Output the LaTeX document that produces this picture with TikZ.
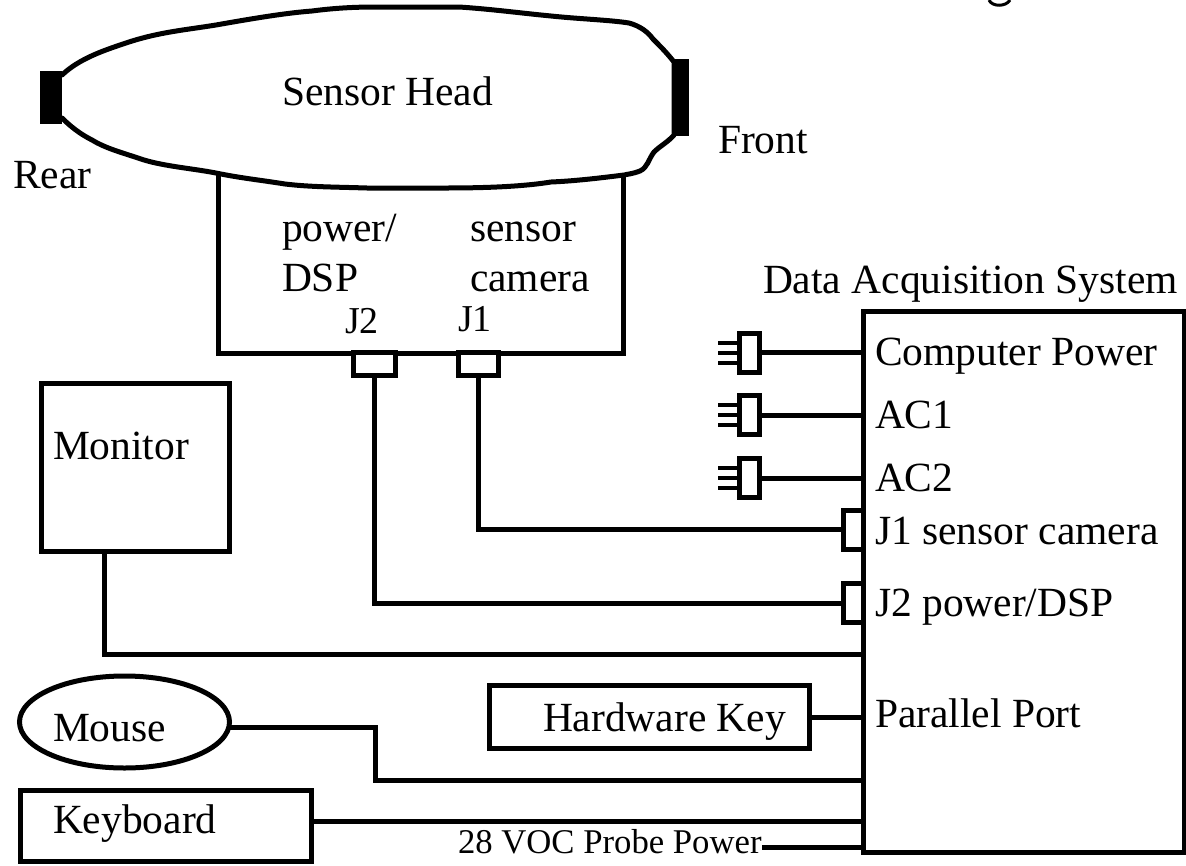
\documentclass[tikz,border=0pt]{standalone}
\usepackage{fontspec}
\setmainfont{Liberation Serif}
\usetikzlibrary{shapes.geometric}
\begin{document}
\begin{tikzpicture}[x=1pt,y=-1pt,
  wire/.style={draw=black,line width=5pt,line cap=butt,line join=miter},
  outline/.style={draw=black,line width=5pt,line cap=round,line join=round},
  boxn/.style={draw=black,line width=5pt,fill=white,inner sep=0pt,outer sep=0pt,rectangle},
  solidn/.style={fill=black,draw=none,inner sep=0pt,outer sep=0pt,rectangle},
  lab/.style={inner sep=0pt,outer sep=0pt,font=\fontsize{41.5}{41.5}\selectfont,text=black,anchor=base west},
  pinw/.style={draw=black,line width=4pt}]
\useasboundingbox (0,0) rectangle (1186,865);
\fill[white] (0,0) rectangle (1186,865);
% cropped fragment at the top edge
\draw[draw=black,line width=3pt] (989,0) .. controls (992,7) and (1006,7) .. (1010,0);
% pedestal under the head
\node[boxn,minimum width=405pt,minimum height=180pt] (base) at (420.5,263) {};
% sensor head outline
\draw[outline,fill=white] (62,75) .. controls (80,58) and (105,50) .. (129,42)
  .. controls (160,32) and (185,30) .. (216,25)
  .. controls (250,19) and (285,13) .. (312,11)
  .. controls (335,8) and (355,7) .. (376,7)
  -- (459,7)
  .. controls (490,9) and (520,13) .. (551,16)
  .. controls (580,19) and (610,20) .. (629,23)
  .. controls (640,26) and (648,32) .. (653,39)
  .. controls (660,46) and (667,53) .. (674,62)
  -- (674,135)
  .. controls (668,142) and (660,146) .. (654,152)
  .. controls (648,160) and (648,167) .. (640,171)
  .. controls (632,174) and (628,174) .. (624,175)
  .. controls (600,178) and (575,181) .. (551,182)
  .. controls (520,187) and (480,188) .. (445,188)
  -- (367,188)
  .. controls (335,187) and (310,187) .. (285,184)
  .. controls (260,180) and (240,178) .. (216,173)
  .. controls (190,168) and (160,166) .. (138,158)
  .. controls (120,152) and (105,148) .. (92,140)
  .. controls (80,134) and (70,126) .. (62,118);
\node[solidn,minimum width=22pt,minimum height=53pt] (rear) at (51,97.5) {};
\node[solidn,minimum width=15pt,minimum height=77pt] (front) at (681.5,97.5) {};
% sensor head connectors
\node[boxn,minimum width=42pt,minimum height=23pt] (hj2) at (374.5,363.5) {};
\node[boxn,minimum width=40pt,minimum height=23pt] (hj1) at (478,363.5) {};
% data acquisition system
\node[boxn,minimum width=321pt,minimum height=541pt] (daq) at (1023.5,581.5) {};
% plugs
\node[boxn,minimum width=20pt,minimum height=39pt] (p1) at (749,352.5) {};
\node[boxn,minimum width=20pt,minimum height=39pt] (p2) at (749,415) {};
\node[boxn,minimum width=20pt,minimum height=39pt] (p3) at (749,478) {};
\foreach \p in {p1,p2,p3}{
  \coordinate (\p a) at ([yshift=-10pt]\p.west);
  \coordinate (\p b) at (\p.west);
  \coordinate (\p c) at ([yshift=10pt]\p.west);
  \foreach \q in {a,b,c}
    \draw[pinw] (\p\q) -- ++(-21,0);
  \draw[wire] (\p.east) -- (daq.west |- \p.east);
}
% ports on the system
\node[boxn,minimum width=20pt,minimum height=39pt] (pj1) at (853,529.5) {};
\node[boxn,minimum width=20pt,minimum height=39pt] (pj2) at (853,603) {};
\draw[wire] (hj1.south) |- (pj1.west);
\draw[wire] (hj2.south) |- (pj2.west);
% peripherals
\node[boxn,minimum width=188pt,minimum height=168pt] (mon) at (135,467) {};
\node[boxn,ellipse,minimum width=210pt,minimum height=92pt] (mouse) at (124.5,722) {};
\node[boxn,minimum width=291pt,minimum height=71pt] (kbd) at (166,826) {};
\node[boxn,minimum width=320pt,minimum height=63pt] (hw) at (649,717) {};
\coordinate (monend) at (daq.west |- 0,654);
\coordinate (mouseend) at (daq.west |- 0,780);
\coordinate (mousemid) at (375,727);
\draw[wire] (mon.south -| 104,0) |- (monend);
\draw[wire] (mouse.east |- mousemid) -- (mousemid) |- (mouseend);
\draw[wire] (hw.east) -- (daq.west |- hw.east);
\draw[wire] (kbd.east |- 0,821.5) -- (daq.west |- 0,821.5);
\coordinate (vocstart) at (762,847);
\draw[wire] (vocstart) -- (daq.west |- vocstart);
% labels
\node[lab] (t1) at (282,105) {Sensor Head};
\node[lab] (t2) at (13,188) {Rear};
\node[lab] (t3) at (718,153) {Front};
\node[lab] (t4) at (282,241) {power/};
\node[lab] (t5) at (282,291) {DSP};
\node[lab] (t6) at (470,241) {sensor};
\node[lab] (t7) at (470,291) {camera};
\node[lab,font=\fontsize{38}{38}\selectfont] (t8) at (345,333) {J2};
\node[lab,font=\fontsize{38}{38}\selectfont] (t9) at (458,331) {J1};
\node[lab] (t10) at (763,293) {Data Acquisition System};
\node[lab] (t11) at (875,365) {Computer Power};
\node[lab] (t12) at (875,428) {AC1};
\node[lab] (t13) at (875,491) {AC2};
\node[lab] (t14) at (875,544) {J1 sensor camera};
\node[lab] (t15) at (875,616) {J2 power/DSP};
\node[lab] (t16) at (875,727) {Parallel Port};
\node[lab] (t17) at (53,459) {Monitor};
\node[lab] (t18) at (53,741) {Mouse};
\node[lab] (t19) at (53,833) {Keyboard};
\node[lab] (t20) at (543,731) {Hardware Key};
\node[lab,font=\fontsize{34.7}{35}\selectfont] (t21) at (458,853) {28 VOC Probe Power};
\end{tikzpicture}
\end{document}
